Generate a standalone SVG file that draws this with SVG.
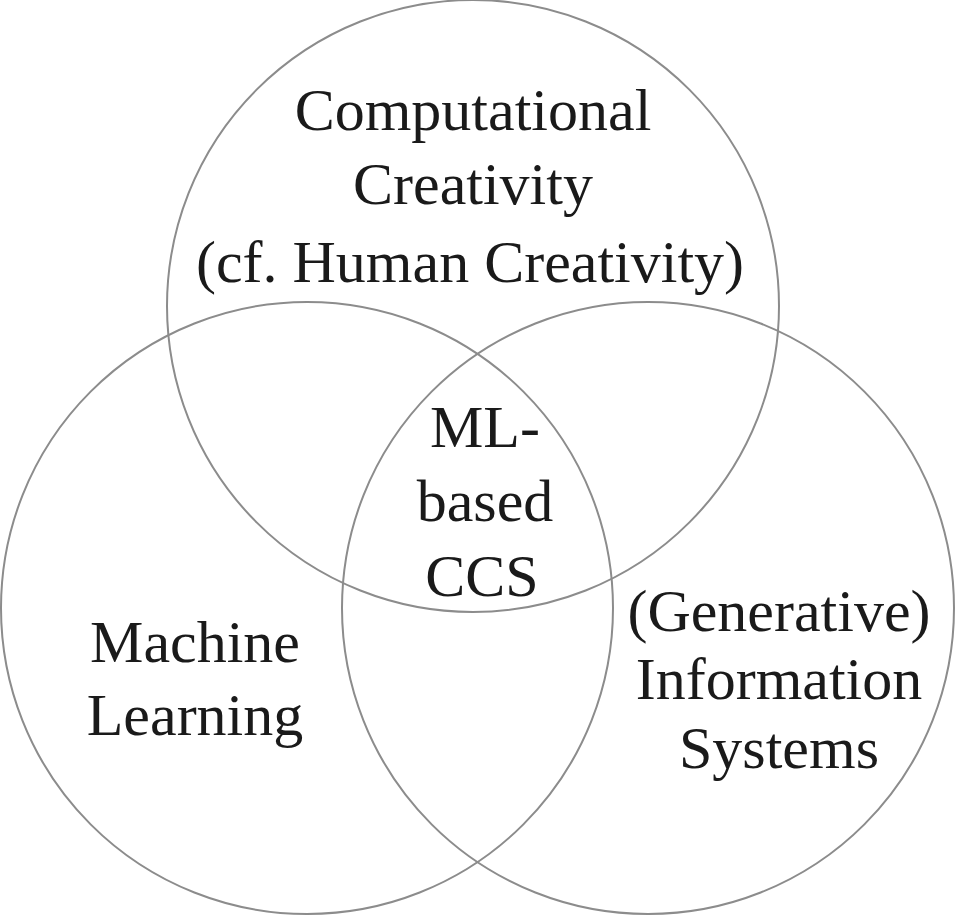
<svg xmlns="http://www.w3.org/2000/svg" width="958" height="917" viewBox="0 0 958 917">
<style>
.c{fill:none;stroke:#8c8c8c;stroke-width:2}
text{font-family:"Liberation Serif","Times New Roman",serif;font-size:60px;fill:#1a1a1a;text-anchor:middle}
</style>
<rect width="958" height="917" fill="#fff"/>
<g id="circle-cc"><circle class="c" cx="473" cy="306" r="306"/>
<text x="473" y="130">Computational</text>
<text x="473" y="204">Creativity</text>
<text x="470" y="282">(cf. Human Creativity)</text></g>
<g id="circle-ml"><circle class="c" cx="307" cy="608" r="306"/>
<text x="195" y="662">Machine</text>
<text x="195" y="735">Learning</text></g>
<g id="circle-is"><circle class="c" cx="648" cy="608" r="306"/>
<text x="779" y="631">(Generative)</text>
<text x="779" y="699">Information</text>
<text x="779" y="768">Systems</text></g>
<g id="center"><text x="485" y="447">ML-</text>
<text x="485" y="521">based</text>
<text x="482" y="596">CCS</text></g>
<g id="connectors"/>
</svg>
